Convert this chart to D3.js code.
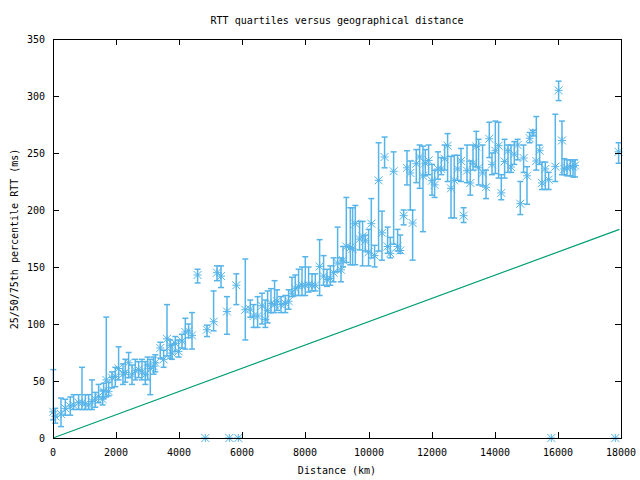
<!DOCTYPE html>
<html><head><meta charset="utf-8">
<script src="https://cdn.jsdelivr.net/npm/d3@7"></script>
<style>body{margin:0;background:#fff}svg{display:block}text{font-family:"DejaVu Sans Mono",monospace;font-size:10px;fill:#000}</style>
</head><body>
<svg id="c" width="640" height="480"></svg>
<script>
const title = "RTT quartiles versus geographical distance";
const xLabel = "Distance (km)";
const yLabel = "25/50/75th percentile RTT (ms)";
const xTicks = [0,2000,4000,6000,8000,10000,12000,14000,16000,18000];
const yTicks = [0,50,100,150,200,250,300,350];

const distance = [10,73,254,390,548,653,811,919,1024,1128,1236,1340,1445,1572,1604,1689,1762,1870,1974,2079,2218,2291,2396,2504,2608,2713,2820,2925,2998,3083,3188,3242,3400,3505,3613,3717,3771,3876,3980,4088,4193,4297,4405,4582,4880,5090,5197,5324,5514,5809,6094,6252,6357,6484,6623,6728,6801,6908,7022,7099,7225,7362,7466,7574,7678,7783,7891,7995,8100,8208,8312,8449,8575,8683,8788,8892,9019,9127,9190,9295,9422,9495,9580,9716,9811,9897,10001,10087,10192,10318,10426,10508,10604,10689,10794,10921,11006,11111,11219,11323,11396,11513,11618,11725,11798,11903,12011,12093,12201,12305,12410,12505,12613,12717,12822,12930,13012,13120,13224,13310,13414,13487,13614,13722,13826,13912,14017,14121,14207,14311,14419,14514,14619,14723,14809,14913,15021,15104,15211,15316,15421,15496,15601,15706,15918,16023,16130,16203,16289,16394,16479,16542,17924];
const rttMedian = [23,19,21,26,28,29,31,31,30,29,32,34,36.5,34,41,51,41,53,54,61,56,57.5,66,55.5,59,60,58,55.5,64,61,63,66,79,69,87,81,74.5,83,76,85,93,94,90,143,95,102,145,142,111,134,112.5,113,107,107,116,104,112,118,117,120,117,118,120,127,131,133,134,134,134.5,134,134,150.5,142,139,140,145,153.5,147.5,156,168,167,166,188,174.5,177,173,163,188,160,226,180,246.5,168,162,234,168,164.5,195,237,232.5,188.6,240.6,246.5,230,241,243.5,225.7,222,236,236,245,256.4,219,226,236,243,195,234.5,223.7,241,255.8,237,232.5,220,262.5,240,252,256.4,215,242.6,252,237.7,249,257,205.5,245.6,230,263,268,243,252,223.7,236,226.6,238,305,261,236,237,238,238,239,251];
const rttQ25 = [16,13,10,20,20,25,25,25,25,25,25,27,31,29,35,36,37,44,45,51,47,49,53,47,51,53,51,47,51,38,56,58,70,62,72,70,69,76,71,79,78,88,78,136,89,94,138,132,91,117,86,106,97,97,100,97,101,110,110,112,110,110,113,124,125,125,125,125,128,129,129,125,134,133,134,137,146,137,150,154,152,152,152,165,151,164,151,158,150,164,156,237,162,158,170,164,162,187,222,200,156,224,219,181,230,231,213,211,227,231,235,225,193,193,226,225,189,224,213,235,238,222,221,210,246,231,232,228,209,228,233,233,240,244,196,233,205,259,265,235,240,218,218,218,225,296,231,231,230,230,229,229,241];
const rttQ75 = [60,26,35,34,36,38,38,62,38,38,51,40,47,42,48,106,49,58,62,80,65,69,75,64,69,67,69,67,71,69,71,73,84,77,117,86,82,89,86,91,105,100,110,148,99,129,151,151,124,144,157,121,117,124,127,121,129,131,138,130,124,125,130,141,143,148,150,159,150,144,144,174,160,148,151,158,185,158,168,211,202,202,204,190,190,178,183,210,169,259,199,264,185,176,251,183,178,200,252,243,200,253,257,256,253,257,240,235,251,246,257,267,247,248,248,254,202,257,243,257,269,262,257,235,277,250,278,277,231,262,257,257,260,262,225,257,238,268,270,282,257,242,242,233,284,313,278,245,244,244,243,244,259];
const zeroDistance = [4826,5587,5872,15791,17819];
const zeroRtt = [0,0,0,0,0];
const boundDistance = [0,17950];
const boundRtt = [0,183];

const svg = d3.select("#c");
const L=53, R=621, T=39, B=438;
const x = d3.scaleLinear().domain([0,18000]).range([L,R]);
const y = d3.scaleLinear().domain([0,350]).range([B,T]);
const blue="#56b4e9", green="#009e73";

// bound line
svg.append("path")
  .datum(boundDistance.map((d,i)=>[d,boundRtt[i]]))
  .attr("fill","none").attr("stroke",green).attr("stroke-width",1.2)
  .attr("d", d3.line().x(d=>x(d[0])).y(d=>y(d[1])));

// error bars
const pts = distance.map((d,i)=>({d, m:rttMedian[i], lo:rttQ25[i], hi:rttQ75[i]}));
const g = svg.append("g").attr("stroke",blue).attr("stroke-width",1.5).attr("fill","none");
pts.forEach(p=>{
  const cx=x(p.d);
  g.append("line").attr("x1",cx).attr("x2",cx).attr("y1",y(p.lo)).attr("y2",y(p.hi));
  g.append("line").attr("x1",cx-3).attr("x2",cx+3).attr("y1",y(p.lo)).attr("y2",y(p.lo));
  g.append("line").attr("x1",cx-3).attr("x2",cx+3).attr("y1",y(p.hi)).attr("y2",y(p.hi));
});
// stars
const star = (cx,cy)=>{
  const s=4;
  return `M${cx-s},${cy}L${cx+s},${cy}M${cx},${cy-s}L${cx},${cy+s}M${cx-s},${cy-s}L${cx+s},${cy+s}M${cx-s},${cy+s}L${cx+s},${cy-s}`;
};
const sg = svg.append("g").attr("stroke",blue).attr("stroke-width",1).attr("fill","none");
pts.forEach(p=>sg.append("path").attr("d",star(x(p.d),y(p.m))));
zeroDistance.forEach((d,i)=>sg.append("path").attr("d",star(x(d),y(zeroRtt[i]))));

// axes (ticks inward, mirrored)
const ax = svg.append("g").attr("shape-rendering","crispEdges");
ax.append("rect").attr("x",L).attr("y",T).attr("width",R-L).attr("height",B-T)
  .attr("fill","none").attr("stroke","#000").attr("stroke-width",1);
const tl=6;
xTicks.forEach(t=>{
  const px=Math.round(x(t));
  ax.append("line").attr("x1",px).attr("x2",px).attr("y1",B).attr("y2",B-tl).attr("stroke","#000");
  ax.append("line").attr("x1",px).attr("x2",px).attr("y1",T).attr("y2",T+tl).attr("stroke","#000");
  svg.append("text").attr("x",px).attr("y",452).attr("text-anchor","middle").attr("dominant-baseline","central").text(t);
});
yTicks.forEach(t=>{
  const py=Math.round(y(t));
  ax.append("line").attr("x1",L).attr("x2",L+tl).attr("y1",py).attr("y2",py).attr("stroke","#000");
  ax.append("line").attr("x1",R).attr("x2",R-tl).attr("y1",py).attr("y2",py).attr("stroke","#000");
  svg.append("text").attr("x",45).attr("y",py).attr("text-anchor","end").attr("dominant-baseline","central").text(t);
});
svg.append("text").attr("x",337).attr("y",20).attr("text-anchor","middle").attr("dominant-baseline","central").text(title);
svg.append("text").attr("x",337).attr("y",470).attr("text-anchor","middle").attr("dominant-baseline","central").text(xLabel);
svg.append("text").attr("transform","translate(14,239) rotate(-90)").attr("text-anchor","middle").attr("dominant-baseline","central").text(yLabel);
</script>
</body></html>
